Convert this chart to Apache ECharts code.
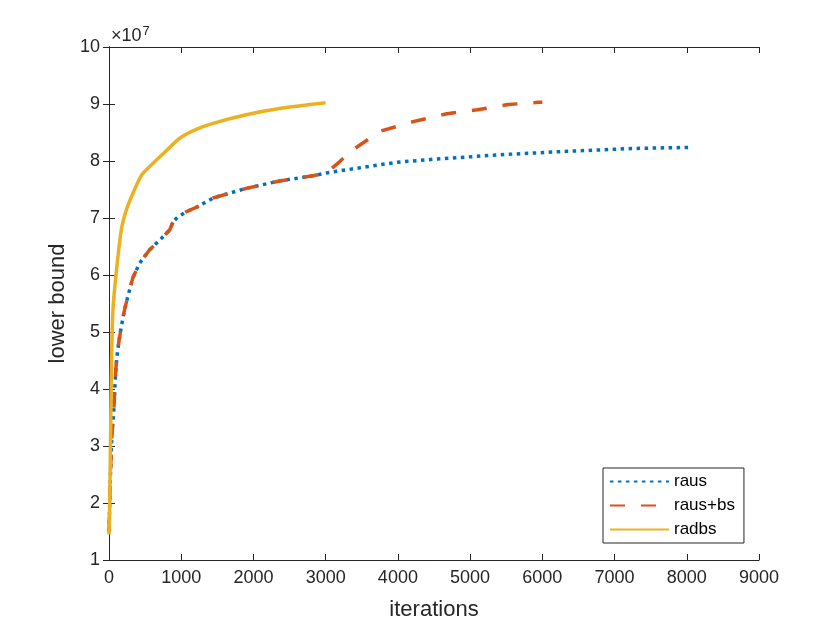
<!doctype html>
<html>
<head>
<meta charset="UTF-8">
<title>lower bound vs iterations</title>
<script src="https://cdn.jsdelivr.net/npm/echarts@6/dist/echarts.min.js"></script>
<style>
	html, body { margin: 0; padding: 0; background: #fff; }
	#chart { width: 840px; height: 630px; }
</style>
</head>
<body>
<div id="chart"></div>
<script>
	// values, y in units of 1e7
	var rausIter = [0, 20, 40, 65, 80, 95, 110, 140, 170, 215, 260, 330, 425, 560, 700, 840, 890, 955, 1070, 1230, 1440, 1900, 2360, 2820, 3010, 3570, 4000, 4490, 5420, 6340, 7260, 8080];
	var rausVal = [1.5, 2.5, 3.2, 3.6, 4.0, 4.35, 4.57, 4.86, 5.09, 5.39, 5.62, 5.95, 6.21, 6.44, 6.61, 6.79, 6.94, 7.02, 7.11, 7.20, 7.35, 7.52, 7.65, 7.74, 7.79, 7.90, 7.98, 8.03, 8.11, 8.17, 8.22, 8.24];

	var bsIter = [0, 20, 40, 65, 80, 95, 110, 140, 170, 215, 260, 330, 425, 560, 700, 840, 890, 955, 1070, 1230, 1440, 1900, 2360, 2820, 3010, 3195, 3380, 3750, 4210, 4680, 5100, 5530, 5940, 6000];
	var bsVal = [1.5, 2.5, 3.2, 3.6, 4.0, 4.35, 4.57, 4.86, 5.09, 5.39, 5.62, 5.95, 6.21, 6.44, 6.61, 6.79, 6.94, 7.02, 7.11, 7.20, 7.35, 7.52, 7.65, 7.74, 7.79, 7.99, 8.20, 8.52, 8.69, 8.83, 8.90, 8.99, 9.03, 9.03];

	var radbsIter = [0, 10, 20, 30, 40, 55, 100, 170, 240, 330, 450, 610, 800, 980, 1200, 1440, 1900, 2360, 3000];
	var radbsVal = [1.45, 2.0, 3.0, 4.0, 4.8, 5.4, 6.04, 6.79, 7.14, 7.43, 7.75, 7.96, 8.19, 8.40, 8.55, 8.66, 8.81, 8.92, 9.02];

	var seriesNames = ['raus', 'raus+bs', 'radbs'];

	function pairs(xs, ys) {
		return xs.map(function (x, i) { return [x, ys[i]]; });
	}

	var chart = echarts.init(document.getElementById('chart'));
	var font = 'Liberation Sans, Arial, sans-serif';
	var axisCol = '#262626';

	var option = {
		animation: false,
		textStyle: { fontFamily: font },
		grid: { left: 109, right: 81, top: 47, bottom: 70 },
		xAxis: [
			{
				type: 'value', min: 0, max: 9000, interval: 1000,
				name: 'iterations', nameLocation: 'middle', nameGap: 39,
				nameTextStyle: { fontSize: 22, color: axisCol, fontFamily: font },
				axisLine: { lineStyle: { color: axisCol, width: 1 } },
				axisTick: { inside: true, length: 6, lineStyle: { color: axisCol } },
				axisLabel: { fontSize: 18, color: axisCol, margin: 9, fontFamily: font,
					formatter: function (v) { return String(v); } },
				splitLine: { show: false }
			},
			{
				type: 'value', min: 0, max: 9000, interval: 1000, position: 'top',
				axisLine: { lineStyle: { color: axisCol, width: 1 } },
				axisTick: { inside: true, length: 6, lineStyle: { color: axisCol } },
				axisLabel: { show: false },
				splitLine: { show: false }
			}
		],
		yAxis: [
			{
				type: 'value', min: 1, max: 10, interval: 1,
				name: 'lower bound', nameLocation: 'middle', nameGap: 33,
				nameTextStyle: { fontSize: 22, color: axisCol, fontFamily: font },
				axisLine: { show: true, lineStyle: { color: axisCol, width: 1 } },
				axisTick: { show: true, inside: true, length: 6, lineStyle: { color: axisCol } },
				axisLabel: { fontSize: 18, color: axisCol, margin: 9, fontFamily: font },
				splitLine: { show: false }
			},
			{
				type: 'value', min: 1, max: 10, interval: 1, position: 'right',
				axisLine: { show: true, lineStyle: { color: axisCol, width: 1 } },
				axisTick: { show: true, inside: true, length: 6, lineStyle: { color: axisCol } },
				axisLabel: { show: false },
				splitLine: { show: false }
			}
		],
		legend: {
			data: seriesNames,
			orient: 'vertical',
			left: 603, top: 468,
			padding: [5, 9, 5, 6],
			itemWidth: 59, itemHeight: 14, itemGap: 7,
			borderColor: '#262626', borderWidth: 1,
			backgroundColor: '#fff',
			itemStyle: { opacity: 0 },
			textStyle: { fontSize: 17, color: '#000', fontFamily: font }
		},
		graphic: [
			{
				type: 'text', left: 111, top: 25,
				style: {
					text: '×10{sup|7}',
					rich: { sup: { fontSize: 13, verticalAlign: 'top', padding: [0, 0, 10, 1] } },
					fontSize: 18, fill: axisCol, fontFamily: font
				}
			}
		],
		series: [
			{
				name: 'raus', type: 'line', showSymbol: false, symbol: 'none',
				data: pairs(rausIter, rausVal),
				lineStyle: { color: '#0072BD', width: 3.5, type: [3.5, 4.5] },
				itemStyle: { color: '#0072BD' }
			},
			{
				name: 'raus+bs', type: 'line', showSymbol: false, symbol: 'none',
				data: pairs(bsIter, bsVal),
				lineStyle: { color: '#D95319', width: 3.5, type: [15, 16] },
				itemStyle: { color: '#D95319' }
			},
			{
				name: 'radbs', type: 'line', showSymbol: false, symbol: 'none',
				smooth: 0.25,
				data: pairs(radbsIter, radbsVal),
				lineStyle: { color: '#EDB120', width: 3.5 },
				itemStyle: { color: '#EDB120' }
			}
		]
	};
	chart.setOption(option);
</script>
</body>
</html>
